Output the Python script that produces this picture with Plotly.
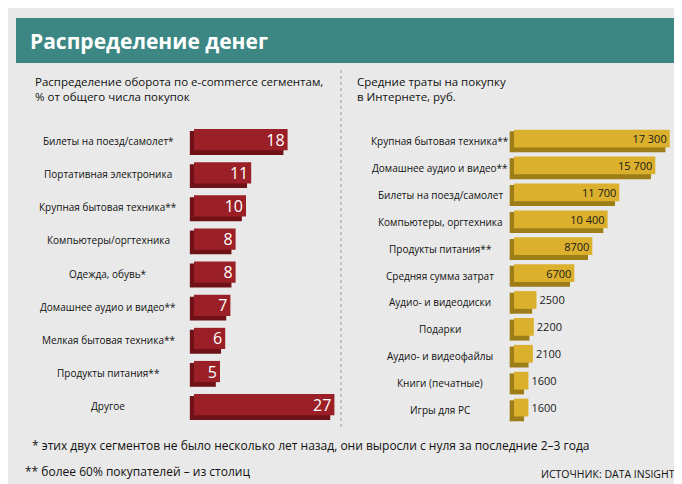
import plotly.graph_objects as go

left_cats = ["Билеты на поезд/самолет*", "Портативная электроника", "Крупная бытовая техника**",
             "Компьютеры/оргтехника", "Одежда, обувь*", "Домашнее аудио и видео**",
             "Мелкая бытовая техника**", "Продукты питания**", "Другое"]
left_vals = [18, 11, 10, 8, 8, 7, 6, 5, 27]

right_cats = ["Крупная бытовая техника**", "Домашнее аудио и видео**", "Билеты на поезд/самолет",
              "Компьютеры, оргтехника", "Продукты питания**", "Средняя сумма затрат",
              "Аудио- и видеодиски", "Подарки", "Аудио- и видеофайлы", "Книги (печатные)", "Игры для PC"]
right_vals = [17300, 15700, 11700, 10400, 8700, 6700, 2500, 2200, 2100, 1600, 1600]
right_text = ["17 300", "15 700", "11 700", "10 400", "8700", "6700", "2500", "2200", "2100", "1600", "1600"]

W, H = 682, 484
FONT = "Open Sans"
fig = go.Figure()

def px(x): return x / W
def py(y): return 1 - y / H

ly = list(range(len(left_vals)))
ry = list(range(len(right_vals)))

# left: shadow + face
fig.add_trace(go.Bar(x=left_vals, y=ly, base=-0.8, orientation="h", width=0.72, offset=-0.3,
                     marker=dict(color="#6e1218", line_width=0), xaxis="x", yaxis="y", hoverinfo="skip"))
fig.add_trace(go.Bar(x=left_vals, y=ly, orientation="h", width=0.64, offset=-0.36,
                     marker=dict(color="#9b1f27", line_width=0), text=[str(v) for v in left_vals],
                     textposition="inside", insidetextanchor="end", textangle=0, constraintext="none",
                     textfont=dict(color="white", size=16, family=FONT), xaxis="x", yaxis="y"))
# right
fig.add_trace(go.Bar(x=right_vals, y=ry, base=-480, orientation="h", width=0.78, offset=-0.36,
                     marker=dict(color="#9c7d17", line_width=0), xaxis="x2", yaxis="y2", hoverinfo="skip"))
# short bars: text outside
fig.add_trace(go.Bar(x=right_vals, y=ry, orientation="h", width=0.66, offset=-0.42,
                     marker=dict(color="#dbb02c", line_width=0), text=right_text,
                     textposition=["inside"] * 6 + ["outside"] * 5, insidetextanchor="end",
                     textangle=0, constraintext="none", cliponaxis=False,
                     textfont=dict(color="#1a1a1a", size=11, family=FONT), xaxis="x2", yaxis="y2"))

for i, c in enumerate(left_cats):
    fig.add_annotation(x=px(100), y=i, xref="paper", yref="y", text=c, showarrow=False, xanchor="center",
                       font=dict(size=10, color="#111", family=FONT))
for i, c in enumerate(right_cats):
    fig.add_annotation(x=px(432), y=i, xref="paper", yref="y2", text=c, showarrow=False, xanchor="center",
                       font=dict(size=10, color="#111", family=FONT))

texts = [
    (20, 33, "<b>Распределение денег</b>", 21, "white", "left"),
    (25, 81, "Распределение оборота по e-commerce сегментам,<br>% от общего числа покупок", 11.5, "#111", "left"),
    (347, 81, "Средние траты на покупку<br>в Интернете, руб.", 11.5, "#111", "left"),
    (22, 437, "* этих двух сегментов не было несколько лет назад, они выросли с нуля за последние 2–3 года", 12, "#111", "left"),
    (15, 463, "** более 60% покупателей – из столиц", 12, "#111", "left"),
    (669, 466, "ИСТОЧНИК: DATA INSIGHT", 10.5, "#111", "right"),
]
for x, y, t, s, col, al in texts:
    fig.add_annotation(x=px(x), y=py(y), xref="paper", yref="paper", text=t, showarrow=False,
                       xanchor=al, yanchor="middle", align="left", font=dict(size=s, color=col, family=FONT))

fig.add_shape(type="rect", xref="paper", yref="paper", x0=px(8), x1=px(674), y0=py(55), y1=py(10),
              fillcolor="#3c8783", line_width=0, layer="below")
fig.add_shape(type="line", xref="paper", yref="paper", x0=px(333), x1=px(333), y0=py(62), y1=py(422),
              line=dict(color="#999", width=1, dash="dot"))

lpx = 5.2
rpx = 0.009
fig.update_layout(
    width=W, height=H, margin=dict(l=0, r=0, t=0, b=0),
    paper_bgcolor="#e9e9e9", plot_bgcolor="rgba(0,0,0,0)", showlegend=False, barmode="overlay",
    xaxis=dict(domain=[px(180), px(340)], range=[(180 - 186) / lpx, (340 - 186) / lpx], visible=False),
    yaxis=dict(domain=[py(415), py(116)], range=[8 + (415 - 398) / 33.1, -(133 - 116) / 33.1], visible=False),
    xaxis2=dict(domain=[px(500), px(675)], range=[(500 - 506) / rpx, (675 - 506) / rpx], visible=False),
    yaxis2=dict(domain=[py(415), py(116)], range=[10 + (415 - 402) / 26.9, -(133 - 116) / 26.9], visible=False,
                anchor="x2"),
    font=dict(family=FONT),
)
fig.write_html("out.html")
